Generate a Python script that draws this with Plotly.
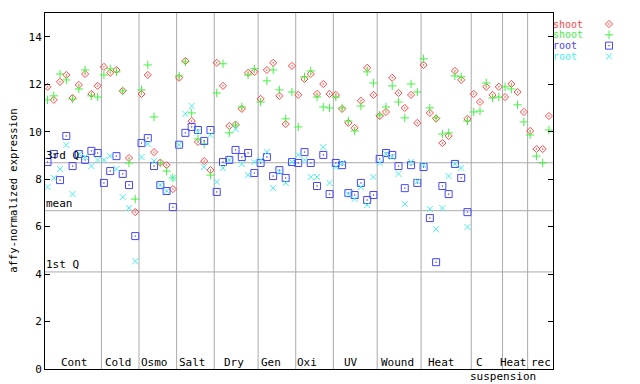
import plotly.graph_objects as go
import numpy as np

groups = ["Cont", "Cold", "Osmo", "Salt", "Dry", "Gen", "Oxi", "UV", "Wound", "Heat", "C", "Heat", "rec"]
group_sizes = [9, 6, 6, 6, 7, 6, 6, 7, 7, 8, 5, 4, 4]
label_shift_px = [1, -2, -3.5, -2.6, -2.3, -5.8, -8, -4.7, -1.4, -5, -7, -1.7, 1]

shoot_red = [11.89, 11.34, 12.10, 12.39, 11.42, 11.97, 12.43, 11.59, 11.93,
             12.73, 12.48, 12.60, 11.72, 8.89, 6.61,
             11.59, 12.39, 9.14, 8.70, 8.59, 7.58,
             12.27, 12.98, 10.45, 9.57, 8.76, 8.38,
             12.90, 11.93, 10.24, 10.30, 10.96, 12.48, 12.52,
             11.38, 12.60, 12.90, 11.51, 10.32, 12.77,
             11.55, 12.22, 12.43, 11.59, 12.01, 11.59,
             11.55, 10.96, 10.37, 10.16, 11.30, 12.69, 11.55,
             10.66, 10.83, 12.27, 11.63, 11.00, 11.55, 10.37,
             12.81, 10.79, 10.55, 9.52, 9.82, 12.56, 12.18, 10.54,
             11.59, 11.25, 11.89, 11.55, 11.89,
             11.46, 12.01, 11.67, 10.83,
             10.03, 9.27, 9.27, 10.66]
shoot_green = [11.34, 11.51, 12.43, 12.18, 11.38, 11.80, 12.60, 11.51, 11.46,
               12.39, 12.65, 12.52, 11.72, 8.68, 7.16,
               11.76, 12.81, 10.62, 8.68, 8.34, 8.05,
               12.35, 12.94, 10.79, 9.69, 9.48, 8.17,
               11.63, 12.86, 9.95, 10.28, 11.04, 12.39, 12.65,
               11.25, 12.14, 12.60, 11.76, 10.54, 11.67,
               10.20, 12.31, 12.56, 11.46, 11.04, 11.00,
               11.46, 11.00, 10.45, 10.03, 11.08, 12.52, 12.05,
               10.70, 11.04, 11.93, 11.25, 10.58, 12.01, 11.67,
               13.07, 11.00, 10.58, 9.90, 9.95, 12.35, 12.31, 10.45,
               10.83, 10.87, 12.05, 11.42, 11.46,
               11.89, 11.80, 11.13, 10.41,
               9.86, 8.97, 8.68, 10.07]
root_blue = [8.72, 9.06, 7.96, 9.82, 8.55, 9.06, 8.81, 9.19, 9.10,
             7.84, 8.34, 8.97, 8.22, 7.75, 5.60,
             9.52, 9.73, 8.55, 7.75, 7.50, 6.82,
             9.45, 9.95, 10.20, 10.07, 9.61, 10.07,
             7.46, 8.72, 8.81, 9.23, 8.93, 9.10, 8.26,
             8.68, 8.93, 8.13, 8.38, 8.05, 8.72,
             8.68, 9.14, 8.68, 7.71, 9.02, 7.37,
             8.68, 8.59, 7.41, 7.33, 7.84, 7.12, 7.33,
             8.85, 9.10, 9.02, 8.55, 7.62, 8.59, 7.84,
             8.51, 6.36, 4.50, 7.71, 7.37, 8.64, 8.05, 6.61] + [None] * 13
root_cyan = [7.67, 8.05, 8.43, 9.44, 7.37, 9.06, 8.93, 8.55, 8.81,
             8.81, 8.97, 8.43, 7.24, 6.78, 4.54,
             8.93, 9.48, 8.76, 7.75, 7.50, 8.05,
             9.45, 10.75, 11.08, 10.00, 8.51, 9.86,
             7.88, 8.47, 8.81, 10.11, 8.64, 8.17, 8.72,
             8.80, 9.14, 7.62, 8.30, 7.84, 8.72,
             9.02, 8.81, 8.09, 8.09, 9.35, 7.84,
             8.51, 8.68, 7.37, 7.16, 7.67, 6.91, 8.09,
             8.68, 9.06, 8.93, 8.22, 6.95, 8.72, 7.90,
             8.59, 6.74, 5.89, 6.78, 8.13, 8.64, 8.47, 5.98] + [None] * 13

q3_value, mean_value, q1_value = 8.69, 6.67, 4.09

series = [
    ("shoot", shoot_red, "#ff4646", "diamond-open-dot", 5.5),
    ("shoot", shoot_green, "#46f046", "cross-thin-open", 6),
    ("root", root_blue, "#4646ff", "square-open-dot", 7),
    ("root", root_cyan, "#46f0f0", "x-thin-open", 6),
]

FONT = "DejaVu Sans Mono"
n = sum(group_sizes)
xs = np.arange(n) + 0.4
bounds = np.cumsum(group_sizes)
starts = bounds - np.array(group_sizes)

# page body has an 8px default margin -> layout is laid out 8px up/left
ML, MT = 37, 5
PLOT_W, PLOT_H = 507.7, 356
AREA_W = 640 - ML
main_frac = PLOT_W / AREA_W

fig = go.Figure()
for name, vals, col, sym, sz in series:
    fig.add_trace(go.Scatter(
        x=xs, y=vals, mode="markers", name=name, showlegend=False,
        marker=dict(symbol=sym, size=sz, color=col, line=dict(color=col, width=1)),
        xaxis="x", yaxis="y"))

# legend swatches on a separate small axis
for k, (name, vals, col, sym, sz) in enumerate(series):
    fig.add_trace(go.Scatter(
        x=[0.591], y=[k], mode="markers", showlegend=False, hoverinfo="skip",
        marker=dict(symbol=sym, size=sz, color=col, line=dict(color=col, width=1)),
        xaxis="x2", yaxis="y2", cliponaxis=False))

shapes = []
for b in bounds[:-1]:
    shapes.append(dict(type="line", xref="x", yref="y domain", x0=b, x1=b, y0=0, y1=1,
                       line=dict(color="#aaaaaa", width=1), layer="below"))
for v in (q3_value, mean_value, q1_value):
    shapes.append(dict(type="line", xref="x domain", yref="y", x0=0, x1=1, y0=v, y1=v,
                       line=dict(color="#aaaaaa", width=1), layer="below"))

annotations = []
for txt, v in (("3rd Q", q3_value), ("mean", mean_value), ("1st Q", q1_value)):
    annotations.append(dict(text=txt, xref="x domain", yref="y", x=0, y=v, xanchor="left",
                            yanchor="bottom", showarrow=False, borderpad=0,
                            font=dict(family=FONT, size=11, color="black")))
for g, s, sz, sh in zip(groups, starts, group_sizes, label_shift_px):
    annotations.append(dict(text=g, xref="x", yref="y", x=s + sz / 2, y=0, xshift=sh,
                            xanchor="center", yanchor="bottom", yshift=-1, showarrow=False,
                            borderpad=0, font=dict(family=FONT, size=11, color="black")))
c_idx = groups.index("C")
annotations.append(dict(text="suspension", xref="x", yref="y",
                        x=starts[c_idx] + group_sizes[c_idx] / 2, xshift=16, y=0,
                        xanchor="center", yanchor="top", showarrow=False, borderpad=0,
                        font=dict(family=FONT, size=11, color="black")))
legend_x = (551.7 - 8 - ML) / AREA_W
for k, (name, vals, col, sym, sz) in enumerate(series):
    ypx = 24 + 10.8 * k - 8
    annotations.append(dict(text=name, xref="paper", yref="paper", x=legend_x,
                            y=1 - (ypx - MT) / PLOT_H, xanchor="left",
                            yanchor="middle", showarrow=False, borderpad=0,
                            font=dict(family=FONT, size=10, color=col)))
annotations.append(dict(text="affy-normalized expression", xref="paper", yref="paper",
                        x=(12.8 - 8 - ML) / AREA_W, y=0.5, textangle=-90,
                        xanchor="center", yanchor="middle",
                        showarrow=False, font=dict(family=FONT, size=10.5, color="black")))

fig.update_layout(
    width=640, height=384,
    margin=dict(l=ML, r=0, t=MT, b=384 - MT - PLOT_H),
    paper_bgcolor="white", plot_bgcolor="white",
    showlegend=False,
    xaxis=dict(domain=[0, main_frac], range=[0, n], showticklabels=False, showgrid=False,
               zeroline=False, showline=True, linecolor="black", linewidth=1, mirror=True,
               ticks=""),
    yaxis=dict(range=[0, 15], tickvals=list(range(0, 15, 2)), ticks="inside", ticklen=5,
               tickcolor="black", showline=True, linecolor="black", linewidth=1,
               mirror="ticks", showgrid=False, zeroline=False,
               tickfont=dict(family=FONT, size=11, color="black")),
    xaxis2=dict(domain=[main_frac, 1], range=[0, 1], visible=False, anchor="y2"),
    yaxis2=dict(domain=[0, 1], range=[31.94, -1.02], visible=False, anchor="x2"),
    shapes=shapes, annotations=annotations,
)

fig.write_html("out.html")
